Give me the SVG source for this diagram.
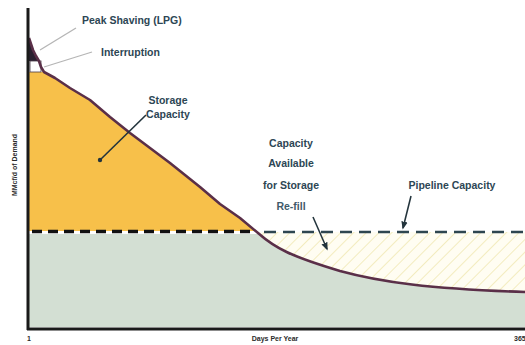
<svg xmlns="http://www.w3.org/2000/svg" width="525" height="345" viewBox="0 0 525 345">
<style>
.lbl{font-family:"Liberation Sans",Arial,sans-serif;font-weight:bold;fill:#2d4654;font-size:10.5px}
.sm{font-family:"Liberation Sans",Arial,sans-serif;font-weight:bold;fill:#2b2b2b;font-size:7px}
.ptr{stroke:#23343c;stroke-width:1.6;fill:none}
.lead{stroke:#b5b5b5;stroke-width:1.3;fill:none}
</style>
<defs>
<pattern id="hatch" width="9" height="9" patternUnits="userSpaceOnUse" patternTransform="rotate(45)">
<rect width="9" height="9" fill="#fffdf2"/>
<line x1="0" y1="0" x2="0" y2="9" stroke="#f3ecbf" stroke-width="2"/>
</pattern>
<marker id="ah" viewBox="0 0 10 10" refX="8" refY="5" markerWidth="5" markerHeight="5" orient="auto">
<path d="M0,1 L10,5 L0,9 z" fill="#23343c"/>
</marker>
</defs>
<rect width="525" height="345" fill="#ffffff"/>
<g id="areas">
<path id="green" d="M29,234 L258,234 C275,248 290,256 340,271 C380,282 430,289 525,292 L525,327 L29,327 Z" fill="#d3dfd3"/>
<path id="hatched" d="M258,232 L525,232 L525,292 C430,289 380,282 340,271 C290,256 275,248 258,233 Z" fill="url(#hatch)"/>
<path id="storage" d="M29,72 L44,72 L55,78 L70,88 L90,100 L110,117 L130,133 L150,148 L170,163 L200,187 L220,204 L240,218 L255,231 L29,231 Z" fill="#f7c04a"/>
<path id="peak" d="M29,38 L33,50 L36,56 L39,61 L29,61 Z" fill="#2a2030"/>
<rect id="interruption" x="30" y="61" width="11" height="11" fill="#ffffff" stroke="#4a3a48" stroke-width="0.8"/>
</g>
<g id="connectors">
<path id="demand" d="M29,38 L33,50 L36,56 L39,61 L41,67 L44,72 L55,78 L70,88 L90,100 L110,117 L130,133 L150,148 L170,163 L200,187 L220,204 L240,218 L258,233 C275,248 290,256 340,271 C380,282 430,289 525,292" fill="none" stroke="#5a2f48" stroke-width="2.6" stroke-linejoin="round"/>
<line id="pipe-left" x1="32" y1="231.5" x2="256" y2="231.5" stroke="#111111" stroke-width="3.5" stroke-dasharray="10 6"/>
<line id="pipe-right" x1="264" y1="232" x2="525" y2="232" stroke="#2e4650" stroke-width="2.5" stroke-dasharray="12 7"/>
<line class="lead" x1="40" y1="50" x2="76" y2="28"/>
<line class="lead" x1="44" y1="67" x2="92" y2="52"/>
<line class="ptr" x1="100" y1="160" x2="146" y2="115"/>
<circle cx="100" cy="160" r="2.2" fill="#23343c"/>
<line class="ptr" x1="313" y1="217" x2="327" y2="249" marker-end="url(#ah)"/>
<line class="ptr" x1="411" y1="196" x2="403" y2="228" marker-end="url(#ah)"/>
</g>
<g id="axes">
<line x1="28" y1="8" x2="28" y2="330" stroke="#1a1a1a" stroke-width="3"/>
<line x1="27" y1="329" x2="525" y2="329" stroke="#1a1a1a" stroke-width="3"/>
</g>
<g id="labels">
<text class="lbl" x="82" y="24">Peak Shaving (LPG)</text>
<text class="lbl" x="101" y="56">Interruption</text>
<text class="lbl" x="168" y="104" text-anchor="middle">Storage</text>
<text class="lbl" x="168" y="118" text-anchor="middle">Capacity</text>
<text class="lbl" x="291" y="147" text-anchor="middle">Capacity</text>
<text class="lbl" x="291" y="167" text-anchor="middle">Available</text>
<text class="lbl" x="291" y="189" text-anchor="middle">for Storage</text>
<text class="lbl" x="291" y="210" text-anchor="middle" style="fill:#3f5a6a">Re-fill</text>
<text class="lbl" x="452" y="189" text-anchor="middle">Pipeline Capacity</text>
<text class="sm" x="17" y="165" text-anchor="middle" transform="rotate(-90 17 165)">MMcf/d of Demand</text>
<text class="sm" x="275" y="341" text-anchor="middle">Days Per Year</text>
<text class="sm" x="29" y="341" text-anchor="middle">1</text>
<text class="sm" x="514" y="341">365</text>
</g>
</svg>
